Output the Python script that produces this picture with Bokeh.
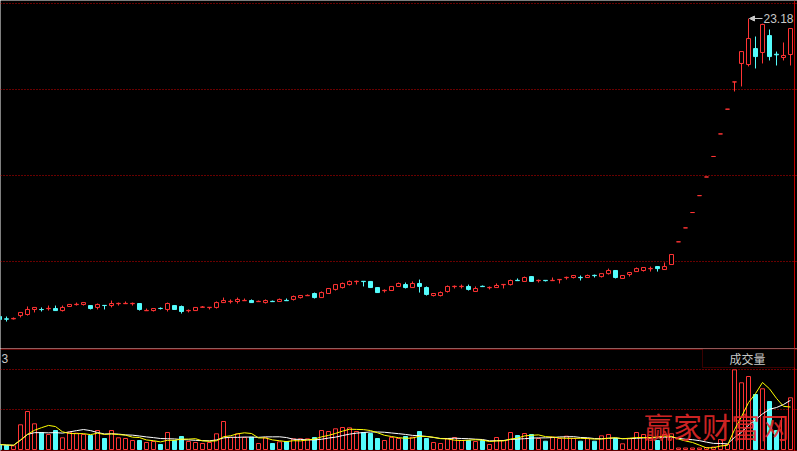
import pandas as pd
from bokeh.plotting import figure
from bokeh.layouts import column
from bokeh.models import (Range1d, FixedTicker, Span, Label, BoxAnnotation,
                          Arrow, NormalHead, ColumnDataSource)
from bokeh.embed import file_html
from bokeh.resources import INLINE

# ---------------- data (daily candles) ----------------
opens = [4.15, 4.00, 4.00, 4.21, 4.28, 4.60, 4.60, 4.65, 4.66, 4.53,
         4.79, 4.91, 4.92, 4.85, 4.73, 4.86, 4.85, 4.97, 4.97, 4.97,
         4.98, 4.52, 4.53, 4.67, 4.60, 4.85, 4.79, 4.52, 4.53, 4.74,
         4.72, 4.73, 5.04, 5.10, 5.11, 5.16, 5.17, 5.10, 5.04, 5.12,
         5.11, 5.18, 5.24, 5.36, 5.48, 5.62, 5.36, 5.62, 5.88, 6.00,
         6.19, 6.38, 6.40, 6.39, 6.00, 5.80, 5.81, 6.07, 6.19, 6.00,
         6.26, 6.00, 5.49, 5.49, 5.75, 6.06, 6.06, 6.07, 5.75, 6.08,
         5.99, 6.00, 6.18, 6.19, 6.46, 6.39, 6.70, 6.44, 6.46, 6.44,
         6.50, 6.63, 6.64, 6.65, 6.64, 6.78, 6.70, 6.89, 7.09, 6.58,
         6.83, 7.02, 7.09, 7.20, 7.34, 7.15, 7.47, 8.92, 9.81, 10.79,
         11.87, 13.06, 14.37, 15.81, 17.39, 19.13, 20.31, 20.24, 21.26, 21.01,
         22.09, 20.90, 20.69, 20.88]
highs = [4.21, 4.15, 4.09, 4.41, 4.79, 4.73, 4.73, 4.85, 4.85, 4.85,
         4.95, 5.04, 5.04, 4.85, 4.98, 4.86, 5.17, 5.04, 5.11, 5.04,
         4.98, 4.66, 4.66, 4.73, 5.04, 4.88, 4.85, 4.60, 4.75, 4.82,
         4.74, 5.11, 5.36, 5.24, 5.36, 5.30, 5.24, 5.17, 5.24, 5.17,
         5.30, 5.30, 5.49, 5.49, 5.56, 5.68, 5.75, 5.96, 6.21, 6.32,
         6.45, 6.45, 6.40, 6.41, 6.02, 5.88, 6.09, 6.32, 6.32, 6.39,
         6.51, 6.07, 5.62, 5.75, 6.13, 6.13, 6.19, 6.19, 6.07, 6.13,
         6.07, 6.26, 6.20, 6.51, 6.58, 6.70, 6.72, 6.51, 6.46, 6.64,
         6.52, 6.70, 6.77, 6.77, 6.83, 6.83, 6.89, 7.21, 7.09, 6.78,
         6.96, 7.28, 7.28, 7.34, 7.34, 7.60, 8.11, 8.92, 9.81, 10.79,
         11.87, 13.06, 14.37, 15.81, 17.39, 19.13, 21.07, 23.18, 22.03, 22.85,
         22.48, 21.07, 21.65, 22.56]
lows = [3.89, 3.83, 3.96, 4.09, 4.21, 4.41, 4.47, 4.53, 4.53, 4.47,
        4.76, 4.85, 4.85, 4.60, 4.60, 4.60, 4.73, 4.85, 4.97, 4.85,
        4.53, 4.52, 4.47, 4.60, 4.47, 4.58, 4.34, 4.41, 4.51, 4.74,
        4.60, 4.66, 5.04, 4.98, 4.98, 5.16, 5.04, 5.10, 4.98, 5.10,
        5.11, 5.16, 5.17, 5.30, 5.48, 5.30, 5.36, 5.60, 5.81, 5.94,
        6.13, 6.19, 6.07, 5.98, 5.66, 5.68, 5.79, 6.05, 5.94, 5.98,
        5.68, 5.49, 5.43, 5.43, 5.68, 5.94, 5.94, 5.81, 5.73, 6.06,
        5.88, 6.00, 5.94, 6.13, 6.44, 6.37, 6.37, 6.32, 6.39, 6.44,
        6.26, 6.51, 6.58, 6.45, 6.64, 6.64, 6.64, 6.83, 6.58, 6.56,
        6.70, 7.00, 7.02, 7.02, 7.02, 7.13, 7.45, 8.92, 9.81, 10.79,
        11.87, 13.06, 14.37, 15.81, 17.39, 18.52, 18.84, 20.12, 19.99, 20.31,
        20.50, 20.18, 20.50, 20.18]
closes = [3.96, 3.98, 4.03, 4.41, 4.60, 4.73, 4.59, 4.67, 4.53, 4.73,
          4.92, 4.93, 5.04, 4.66, 4.92, 4.85, 4.98, 4.99, 4.99, 4.99,
          4.60, 4.54, 4.66, 4.66, 4.98, 4.60, 4.47, 4.54, 4.73, 4.76,
          4.74, 5.04, 5.17, 5.12, 5.24, 5.18, 5.04, 5.12, 5.17, 5.10,
          5.24, 5.16, 5.43, 5.49, 5.50, 5.36, 5.68, 5.94, 6.19, 6.26,
          6.39, 6.40, 6.38, 6.00, 5.68, 5.82, 6.07, 6.26, 6.00, 6.26,
          6.07, 5.56, 5.62, 5.68, 6.07, 6.08, 6.08, 5.88, 5.94, 6.06,
          6.01, 6.13, 6.20, 6.45, 6.44, 6.64, 6.39, 6.46, 6.44, 6.46,
          6.52, 6.65, 6.77, 6.63, 6.77, 6.76, 6.89, 7.09, 6.64, 6.77,
          6.96, 7.21, 7.28, 7.22, 7.21, 7.34, 8.11, 8.92, 9.81, 10.79,
          11.87, 13.06, 14.37, 15.81, 17.39, 19.13, 21.07, 21.90, 20.75, 22.80,
          20.75, 20.86, 20.82, 22.54]
volumes = [5000, 4000, 3700, 24700, 38000, 25700, 17000, 15000, 19000, 11700,
           17300, 16300, 15000, 14000, 19000, 11000, 19000, 11700, 11000, 9000,
           9000, 7000, 8000, 5000, 17000, 9000, 13000, 8000, 7000, 6000,
           7000, 15700, 28000, 12000, 15700, 12000, 12300, 6000, 11700, 6000,
           7700, 8000, 10700, 10700, 10700, 12000, 19000, 18000, 20700, 22000,
           21700, 18000, 17000, 16000, 11000, 9000, 12000, 11000, 13000, 12300,
           18000, 11000, 7000, 6000, 10700, 12000, 9000, 9000, 8000, 9000,
           5000, 12000, 9000, 17000, 14000, 16000, 15000, 11000, 8300, 12300,
           11000, 13300, 11000, 8300, 11000, 8300, 13700, 15000, 11000, 5700,
           11000, 17000, 15000, 11000, 9000, 15000, 15700, 1500, 1500, 1500,
           1500, 2000, 2500, 10000, 5000, 79700, 66700, 73000, 55000, 60700,
           48000, 19000, 33000, 51700]
price_grid = [7.66, 13.15, 18.65, 24.14]
volume_grid = [40000, 80000]
high_label = "23.18"
volume_title = "成交量"
axis_stub = "3"
watermark = "赢家财富网"

# ---------------- styling ----------------
RED = "#ff3434"
CYAN = "#54fcfc"
BORDER = "#c00000"
GRID = "#d00000"
BG = "#000000"
GREY = "#c8c8c8"

W, H1, H2 = 797, 348, 103
X0 = 1.0 / 7.0                      # index coordinate of the left edge


def px(X):
    """reference pixel coordinate -> index coordinate"""
    return X0 + X / 7.0


x_range = Range1d(px(0), px(W))

idx = list(range(len(opens)))
is_up = [c >= o for o, c in zip(opens, closes)]
colors = [RED if u else CYAN for u in is_up]
fills = [BG if u else CYAN for u in is_up]
src = ColumnDataSource(dict(
    x=idx, open=opens, high=highs, low=lows, close=closes, vol=volumes,
    top=[max(o, c) for o, c in zip(opens, closes)],
    bottom=[min(o, c) for o, c in zip(opens, closes)],
    color=colors, fill=fills,
    ma5=pd.Series(volumes).rolling(5, min_periods=1).mean().tolist(),
    ma10=pd.Series(volumes).rolling(10, min_periods=1).mean().tolist(),
))


def base_fig(height, y_range):
    f = figure(width=W, height=height, x_range=x_range, y_range=y_range,
               output_backend="svg", toolbar_location=None, min_border=0,
               background_fill_color=BG, border_fill_color=BG,
               outline_line_color=None)
    f.xaxis.visible = False
    f.yaxis.visible = False
    f.xgrid.visible = False
    f.ygrid.grid_line_color = GRID
    f.ygrid.grid_line_dash = "1 2"
    f.ygrid.grid_line_width = 1
    return f


# ---------------- price panel ----------------
p1 = base_fig(H1, Range1d(2.108, 24.33))
p1.ygrid.ticker = FixedTicker(ticks=price_grid)
p1.segment(x0="x", y0="high", x1="x", y1="low", color="color",
           line_width=1, source=src)
p1.vbar(x="x", width=4 / 7.0, top="top", bottom="bottom", fill_color="fill",
        line_color="color", line_width=1, source=src)
p1.add_layout(Span(location=px(794), dimension="height",
                   line_color=BORDER, line_width=1))
p1.add_layout(Arrow(end=NormalHead(size=5, fill_color=GREY, line_color=GREY),
                    x_start=px(762), y_start=max(highs),
                    x_end=px(749), y_end=max(highs),
                    line_color=GREY, line_width=1))
p1.add_layout(Label(x=px(763), y=max(highs), text=high_label,
                    text_align="left", text_baseline="middle",
                    text_font="Liberation Sans", text_font_size="12px",
                    text_color=GREY))

# ---------------- volume panel ----------------
p2 = base_fig(H2, Range1d(-2000, 101000))
p2.ygrid.ticker = FixedTicker(ticks=volume_grid)
p2.vbar(x="x", width=4 / 7.0, top="vol", bottom=0, fill_color="fill",
        line_color="color", line_width=1, source=src)
p2.line(x="x", y="ma10", color="#ffffff", line_width=1, source=src)
p2.line(x="x", y="ma5", color="#ffff00", line_width=1, source=src)
p2.add_layout(Span(location=100500, dimension="width",
                   line_color=BORDER, line_width=1))
p2.add_layout(Span(location=-1500, dimension="width",
                   line_color=BORDER, line_width=1))
p2.add_layout(Span(location=px(794), dimension="height",
                   line_color=BORDER, line_width=1))
p2.add_layout(BoxAnnotation(left=px(702), right=px(794),
                            top=100500, bottom=82000,
                            fill_color=BG, fill_alpha=1,
                            line_color=BORDER, line_width=1))
p2.add_layout(Label(x=px(747), y=91500, text=volume_title,
                    text_align="center", text_baseline="middle",
                    text_font="Noto Sans CJK SC", text_font_size="12px",
                    text_color=GREY))
p2.add_layout(Label(x=px(1), y=91000, text=axis_stub,
                    text_align="left", text_baseline="middle",
                    text_font="Liberation Sans", text_font_size="12px",
                    text_color=GREY))
p2.scatter(x=[px(786)], y=[92500], marker="inverted_triangle", size=7,
           fill_color=GREY, line_color=GREY)
p2.add_layout(Label(x=px(716), y=24000, text=watermark,
                    text_align="center", text_baseline="middle",
                    text_font="Noto Sans CJK SC", text_font_size="29px",
                    text_color="#e82828", text_alpha=0.9))

layout = column(p1, p2, spacing=0)
open("out.html", "w").write(file_html(layout, INLINE))
